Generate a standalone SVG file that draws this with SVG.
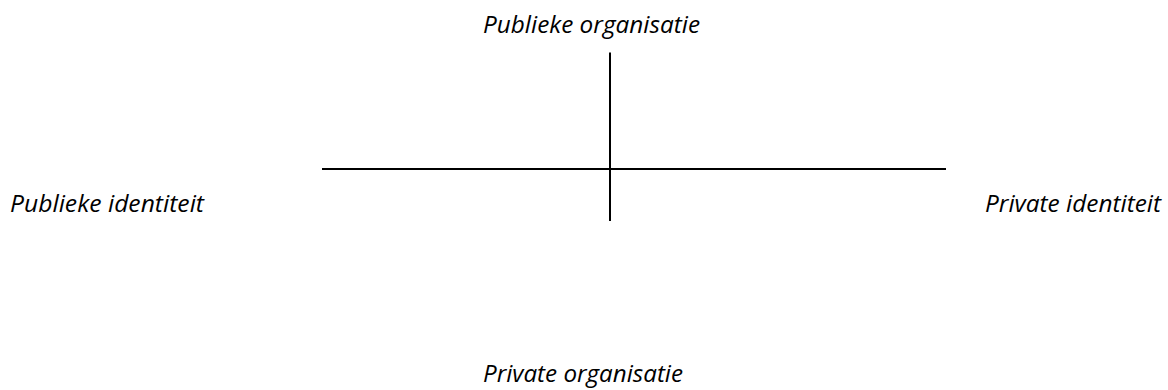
<svg xmlns="http://www.w3.org/2000/svg" width="1168" height="390" viewBox="0 0 1168 390">
  <style>
    .lbl { font-family: "Open Sans", "Liberation Sans", sans-serif; font-style: italic; font-size: 23px; fill: #000; }
    .axis { stroke: #000; stroke-width: 2; fill: none; }
  </style>
  <rect width="1168" height="390" fill="#fff"/>

  <!-- axes -->
  <g id="connectors">
    <line class="axis" x1="322" y1="169" x2="946" y2="169"/>
    <line class="axis" x1="610" y1="52.5" x2="610" y2="221"/>
  </g>

  <g id="publieke-organisatie">
    <text class="lbl" x="483" y="33" textLength="217" lengthAdjust="spacingAndGlyphs">Publieke organisatie</text>
  </g>
  <g id="publieke-identiteit">
    <text class="lbl" x="10" y="212" textLength="194" lengthAdjust="spacingAndGlyphs">Publieke identiteit</text>
  </g>
  <g id="private-identiteit">
    <text class="lbl" x="985" y="212" textLength="176" lengthAdjust="spacingAndGlyphs">Private identiteit</text>
  </g>
  <g id="private-organisatie">
    <text class="lbl" x="483" y="382" textLength="200" lengthAdjust="spacingAndGlyphs">Private organisatie</text>
  </g>
</svg>
